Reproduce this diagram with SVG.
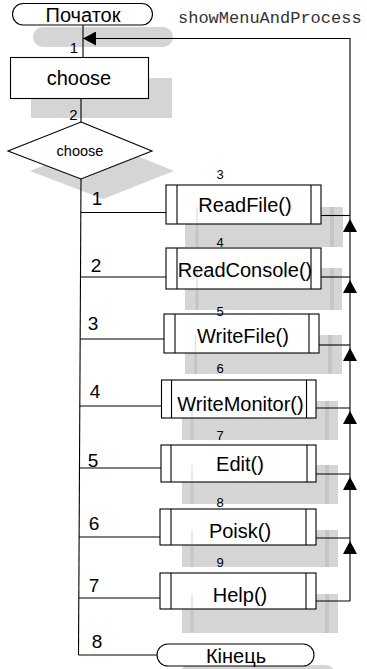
<svg xmlns="http://www.w3.org/2000/svg" width="367" height="669" viewBox="0 0 367 669">
<defs>
<style>
.bg{fill:#fff}
.n{fill:#fff;stroke:#000;stroke-width:1.1}
.sh{fill:#d5d5d5}
.st{fill:#c5c5c5}
.ft{stroke:#e2e2e2;stroke-width:1.5}
.il{stroke:#000;stroke-width:1.1}
.t{font-family:"Liberation Sans",Arial,sans-serif;fill:#000;text-anchor:middle}
.b{font-size:20px}
.c{fill:none;stroke:#000;stroke-width:1.1}
.a{marker-end:url(#ar)}
.l1{font-size:15px}
.ls{font-size:13px}
.lb{font-size:19px}
</style>
<marker id="ar" viewBox="0 0 13 14" refX="13" refY="7" markerWidth="13" markerHeight="14" markerUnits="userSpaceOnUse" orient="auto">
<path d="M0,0 L13,7 L0,14 z" fill="#000"/>
</marker>
</defs>
<rect class="bg" x="0" y="0" width="367" height="669"/>

<g id="start">
<rect class="sh" x="33" y="27" width="140" height="20" rx="10"/>
<rect class="n" x="12.5" y="3.5" width="140" height="21.5" rx="10.7"/>
<text class="t b" x="83" y="22">Початок</text>
</g>

<text x="178" y="23" font-family="'Liberation Mono','Courier New',monospace" font-size="17" fill="#333">showMenuAndProcess</text>

<g id="choose">
<rect class="sh" x="31" y="78" width="141" height="40"/>
<rect class="n" x="10.5" y="57.5" width="138" height="41"/>
<text class="t b" x="79" y="85">choose</text>
</g>

<g id="decision">
<polygon class="sh" points="103,142 174,171 103,199 30,171"/>
<polygon class="n" points="81,122 152,151 81,179 8,151"/>
<text class="t" x="80" y="156" font-size="14.5">choose</text>
</g>

<g id="readfile">
<rect class="sh" x="185" y="207" width="158" height="40"/>
<rect class="st" x="195.5" y="207" width="3" height="40"/>
<rect class="st" x="330" y="207" width="4" height="40"/>
<rect class="n" x="166" y="185" width="155" height="39"/>
<line class="ft" x1="197" y1="207" x2="197" y2="223"/>
<line class="il" x1="177" y1="185" x2="177" y2="224"/>
<line class="il" x1="311" y1="185" x2="311" y2="224"/>
<text class="t b" x="245" y="212">ReadFile()</text>
</g>

<g id="readconsole">
<rect class="sh" x="185" y="268" width="157" height="42"/>
<rect class="st" x="195.5" y="268" width="3" height="42"/>
<rect class="st" x="330" y="268" width="4" height="42"/>
<rect class="n" x="166" y="248" width="155" height="41"/>
<line class="ft" x1="197" y1="268" x2="197" y2="288"/>
<line class="il" x1="177" y1="248" x2="177" y2="289"/>
<line class="il" x1="311" y1="248" x2="311" y2="289"/>
<text class="t b" x="245" y="277">ReadConsole()</text>
</g>

<g id="writefile">
<rect class="sh" x="185" y="335" width="157" height="39"/>
<rect class="st" x="194" y="335" width="3" height="39"/>
<rect class="st" x="328" y="335" width="4" height="39"/>
<rect class="n" x="164" y="314" width="155" height="39"/>
<line class="ft" x1="195.5" y1="335" x2="195.5" y2="352"/>
<line class="il" x1="175" y1="314" x2="175" y2="353"/>
<line class="il" x1="309" y1="314" x2="309" y2="353"/>
<text class="t b" x="243" y="343">WriteFile()</text>
</g>

<g id="writemonitor">
<rect class="sh" x="182" y="401" width="156" height="39"/>
<rect class="st" x="190.5" y="401" width="3" height="39"/>
<rect class="st" x="325" y="401" width="4" height="39"/>
<rect class="n" x="161.5" y="380" width="154.5" height="38"/>
<line class="ft" x1="192" y1="401" x2="192" y2="417"/>
<line class="il" x1="171.5" y1="380" x2="171.5" y2="418"/>
<line class="il" x1="306.5" y1="380" x2="306.5" y2="418"/>
<text class="t b" x="240.5" y="411">WriteMonitor()</text>
</g>

<g id="edit">
<rect class="sh" x="182" y="465" width="156" height="39"/>
<rect class="st" x="190.5" y="465" width="3" height="39"/>
<rect class="st" x="325" y="465" width="4" height="39"/>
<rect class="n" x="161" y="445" width="155" height="37"/>
<line class="ft" x1="192" y1="465" x2="192" y2="481"/>
<line class="il" x1="171" y1="445" x2="171" y2="482"/>
<line class="il" x1="307" y1="445" x2="307" y2="482"/>
<text class="t b" x="240" y="471">Edit()</text>
</g>

<g id="poisk">
<rect class="sh" x="182" y="530" width="156" height="37"/>
<rect class="st" x="190.5" y="530" width="3" height="37"/>
<rect class="st" x="325" y="530" width="4" height="37"/>
<rect class="n" x="160" y="509" width="156" height="36"/>
<line class="ft" x1="192" y1="530" x2="192" y2="544"/>
<line class="il" x1="171" y1="509" x2="171" y2="545"/>
<line class="il" x1="306" y1="509" x2="306" y2="545"/>
<text class="t b" x="240" y="538">Poisk()</text>
</g>

<g id="help">
<rect class="sh" x="182" y="594" width="156" height="39"/>
<rect class="st" x="190.5" y="594" width="3" height="39"/>
<rect class="st" x="325" y="594" width="4" height="39"/>
<rect class="n" x="160" y="573" width="156" height="36"/>
<line class="ft" x1="192" y1="594" x2="192" y2="608"/>
<line class="il" x1="171" y1="573" x2="171" y2="609"/>
<line class="il" x1="306" y1="573" x2="306" y2="609"/>
<text class="t b" x="240" y="602">Help()</text>
</g>

<g id="end">
<rect class="sh" x="179" y="665" width="157" height="22" rx="11"/>
<rect class="n" x="157" y="644" width="157" height="22" rx="11"/>
<text class="t b" x="236" y="663">Кінець</text>
</g>

<g id="connectors">
<line class="c" x1="83" y1="25" x2="83" y2="57.5"/>
<line class="c" x1="81" y1="98.5" x2="81" y2="122"/>
<line class="c" x1="81" y1="179" x2="78.5" y2="655"/>
<path class="c" d="M80.8,212.5 H166"/>
<path class="c" d="M80.5,277 H166"/>
<path class="c" d="M80.2,339 H164"/>
<path class="c" d="M79.8,406 H161.5"/>
<path class="c" d="M79.5,468 H161"/>
<path class="c" d="M79.1,537 H160"/>
<path class="c" d="M78.8,598 H160"/>
<path class="c" d="M78.5,655 H157"/>
<path class="c" d="M321,215.5 H350"/>
<path class="c" d="M321,277 H350"/>
<path class="c" d="M319,345 H350"/>
<path class="c" d="M316,408 H350"/>
<path class="c" d="M316,474 H350"/>
<path class="c" d="M316,538 H350"/>
<path class="c" d="M316,601 H350"/>
<path class="c a" d="M350,601 V541"/>
<path class="c a" d="M350,541 V477"/>
<path class="c a" d="M350,477 V411"/>
<path class="c a" d="M350,411 V348"/>
<path class="c a" d="M350,348 V280"/>
<path class="c a" d="M350,280 V219"/>
<path class="c a" d="M350,219 V38.5 H83"/>
<text class="t l1" x="74" y="53">1</text>
<text class="t l1" x="73.5" y="120">2</text>
<text class="t ls" x="220" y="179">3</text>
<text class="t ls" x="220" y="247">4</text>
<text class="t ls" x="220" y="315.5">5</text>
<text class="t ls" x="220" y="373">6</text>
<text class="t ls" x="220" y="440">7</text>
<text class="t ls" x="220" y="507">8</text>
<text class="t ls" x="220" y="567">9</text>
<text class="t lb" x="97" y="205">1</text>
<text class="t lb" x="96" y="272">2</text>
<text class="t lb" x="93" y="330">3</text>
<text class="t lb" x="95" y="398">4</text>
<text class="t lb" x="93" y="467">5</text>
<text class="t lb" x="94" y="530">6</text>
<text class="t lb" x="94" y="592">7</text>
<text class="t lb" x="97" y="648">8</text>
</g>
</svg>
